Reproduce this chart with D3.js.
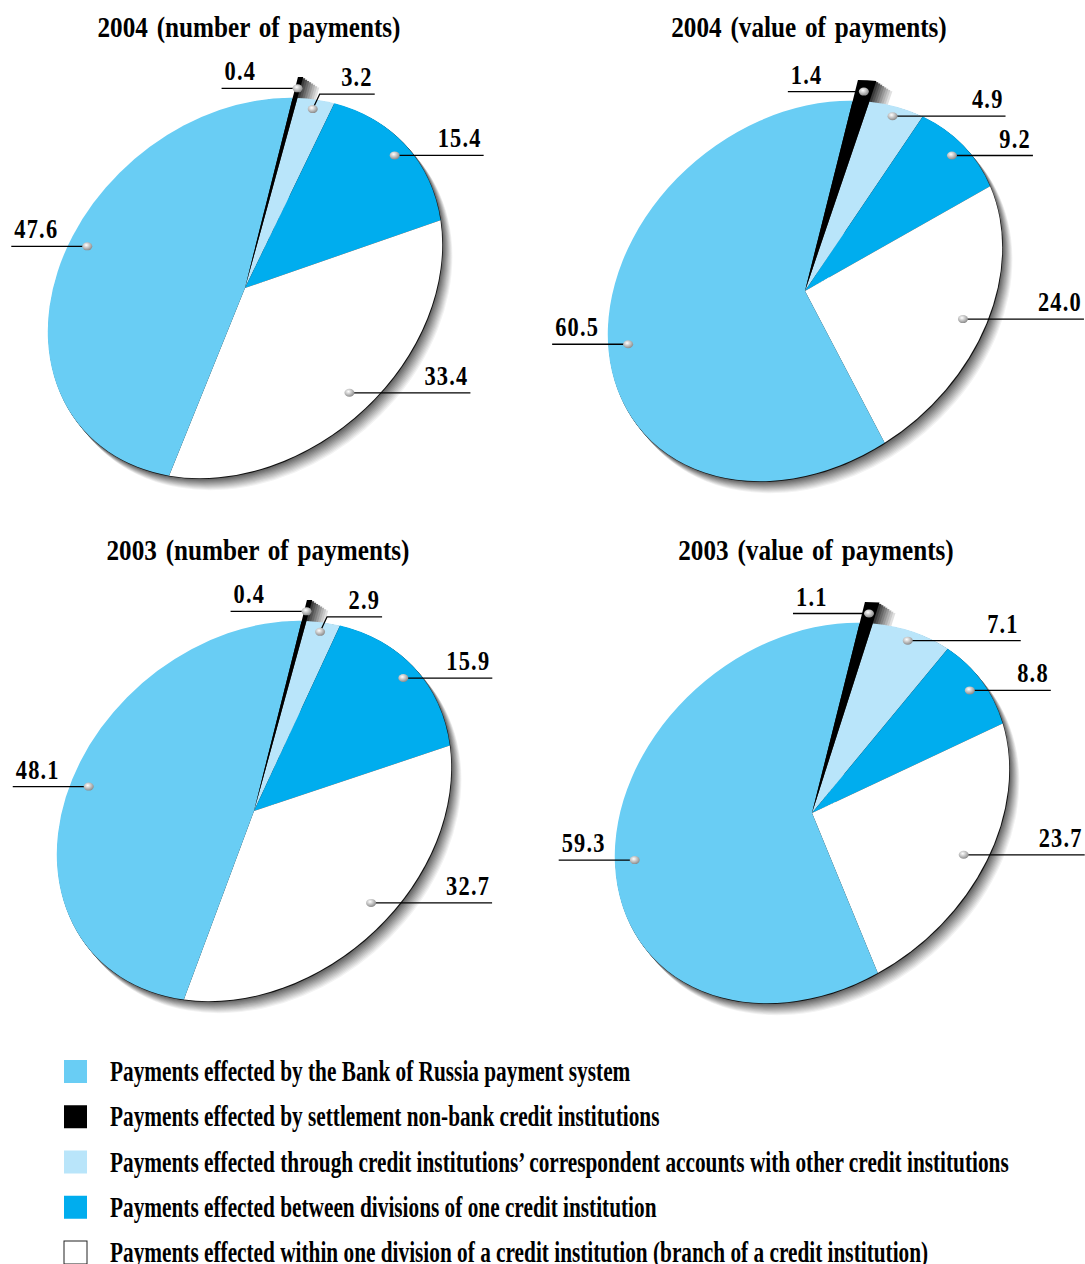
<!DOCTYPE html>
<html>
<head>
<meta charset="utf-8">
<script src="https://cdn.jsdelivr.net/npm/d3@7"></script>
<style>
  body { margin: 0; background: #fff; }
  text { font-family: "Liberation Serif", "DejaVu Serif", serif; font-weight: bold; fill: #000; }
</style>
</head>
<body>
<svg id="chart" width="1085" height="1264"></svg>
<script>
// Legend categories (data order) and their fills
const categories = [
  "Payments effected by the Bank of Russia payment system",
  "Payments effected by settlement non-bank credit institutions",
  "Payments effected through credit institutions\u2019 correspondent accounts with other credit institutions",
  "Payments effected between divisions of one credit institution",
  "Payments effected within one division of a credit institution (branch of a credit institution)"
];
const colors = ["#69cdf4", "#000000", "#b9e5fa", "#00adee", "#ffffff"];

// Chart titles
const titles = [
  "2004 (number of payments)",
  "2004 (value of payments)",
  "2003 (number of payments)",
  "2003 (value of payments)"
];

// Shares, %, in category order
const number2004 = [47.6, 0.4, 3.2, 15.4, 33.4];
const value2004  = [60.5, 1.4, 4.9, 9.2, 24.0];
const number2003 = [48.1, 0.4, 2.9, 15.9, 32.7];
const value2003  = [59.3, 1.1, 7.1, 8.8, 23.7];

// Order of slices clockwise from the start angle
const sliceOrder = [1, 2, 3, 4, 0];

// ---- layout ----
const charts = [
  {title: titles[0], values: number2004, cx: 245, cy: 288, ty: 37,  kind: "number", nudge: [9, 0, 0, 0, 0]},
  {title: titles[1], values: value2004,  cx: 805, cy: 291, ty: 37,  kind: "value",  nudge: [0, 0, 0, 0, 0]},
  {title: titles[2], values: number2003, cx: 254, cy: 811, ty: 560, kind: "number", nudge: [4, 0, 0, 0, -5]},
  {title: titles[3], values: value2003,  cx: 812, cy: 813, ty: 560, kind: "value",  nudge: [0, 0, 0, 0, 0]}
];
const R = 215;          // major radius
const squash = 0.79;    // minor / major
const tilt = -40.5;     // degrees
const startDeg = 48;

// where the label bead sits (fraction of radius) and how the leader runs
const beadR = [0.9, 1.05, 0.95, 0.93, 0.87];
const leaders = {
  number: [{dx: -76}, {dx: -76}, {rise: -15, dx: 55}, {dx: 89}, {dx: 121}],
  value:  [{dx: -76}, {dx: -76}, {dx: 113}, {dx: 81}, {dx: 121}]
};

const svg = d3.select("#chart");
const defs = svg.append("defs");

const bead = defs.append("radialGradient").attr("id", "bead")
  .attr("cx", "40%").attr("cy", "35%").attr("r", "65%");
bead.append("stop").attr("offset", "0%").attr("stop-color", "#ffffff");
bead.append("stop").attr("offset", "100%").attr("stop-color", "#8c8c8c");

const side = defs.append("linearGradient").attr("id", "side")
  .attr("x1", "0%").attr("x2", "100%").attr("y1", "0%").attr("y2", "0%");
side.append("stop").attr("offset", "0%").attr("stop-color", "#111");
side.append("stop").attr("offset", "60%").attr("stop-color", "#777");
side.append("stop").attr("offset", "100%").attr("stop-color", "#d8d8d8");

// circle space -> screen offset
function project(p) {
  const t = tilt * Math.PI / 180;
  const x = p[0], y = p[1] * squash;
  return [x * Math.cos(t) - y * Math.sin(t), x * Math.sin(t) + y * Math.cos(t)];
}

const pie = d3.pie().sort(null).value(d => d.v)
  .startAngle(startDeg * Math.PI / 180)
  .endAngle((startDeg + 360) * Math.PI / 180);
const arc = d3.arc().innerRadius(0).outerRadius(R);
const arcOut = d3.arc().innerRadius(0).outerRadius(R * 1.11);

const shadowColor = d3.scaleLinear().domain([1, 12]).range(["#5e5e5e", "#f3f3f3"]);

charts.forEach(c => {
  const g = svg.append("g");
  const slices = pie(sliceOrder.map(i => ({i: i, v: c.values[i]})));
  const ellTf = `translate(${c.cx},${c.cy}) rotate(${tilt}) scale(1,${squash})`;

  // drop shadow: stacked offset ellipses, lightest first
  d3.range(12, 0, -1).forEach(k => {
    g.append("g")
      .attr("transform", `translate(${c.cx + k * 0.85},${c.cy + k * 1.0}) rotate(${tilt}) scale(1,${squash})`)
      .append("circle").attr("r", R)
      .attr("fill", shadowColor(k));
  });
  g.append("g")
    .attr("transform", `translate(${c.cx + 0.7},${c.cy + 0.9}) rotate(${tilt}) scale(1,${squash})`)
    .append("circle").attr("r", R).attr("fill", "#111");

  // side face of the pulled-out black slice
  const black = slices.find(s => s.data.i === 1);
  d3.range(8, 0, -1).forEach(k => {
    g.append("g")
      .attr("transform", `translate(${c.cx + k * 2},${c.cy + k * 1.3}) rotate(${tilt}) scale(1,${squash})`)
      .append("path").attr("d", arcOut(black))
      .attr("fill", d3.interpolateRgb("#222", "#e0e0e0")(k / 8));
  });

  const pg = g.append("g").attr("transform", ellTf);
  pg.selectAll("path.slice")
    .data(slices.filter(s => s.data.i !== 1))
    .join("path")
    .attr("class", "slice")
    .attr("d", arc)
    .attr("fill", d => colors[d.data.i]);
  pg.append("path").attr("d", arcOut(black)).attr("fill", colors[1]);

  // labels: bead, leader, value
  const lay = leaders[c.kind];
  slices.forEach(s => {
    const i = s.data.i;
    const r = R * beadR[i];
    const sh = c.nudge[i] * Math.PI / 180;
    const shifted = {startAngle: s.startAngle + sh, endAngle: s.endAngle + sh};
    const p = project(d3.arc().innerRadius(r).outerRadius(r).centroid(shifted));
    const bx = c.cx + p[0], by = c.cy + p[1];
    const L = lay[i];
    let pts = [[bx, by]];
    let lx = bx, ly = by;
    if (L.rise) { lx = bx + 7; ly = by + L.rise; pts.push([lx, ly]); }
    const ex = lx + L.dx;
    pts.push([ex, ly]);
    g.append("path")
      .attr("d", d3.line()(pts))
      .attr("fill", "none").attr("stroke", "#000").attr("stroke-width", 1.3);
    g.append("ellipse")
      .attr("cx", bx).attr("cy", by).attr("rx", 5).attr("ry", 4)
      .attr("fill", "url(#bead)");
    const left = L.dx < 0;
    g.append("text")
      .attr("transform", `translate(${left ? ex + 3 : ex - 2},${ly - 8}) scale(0.8,1)`)
      .attr("text-anchor", left ? "start" : "end")
      .style("font-size", "28px")
      .style("letter-spacing", "1.5px")
      .text(c.values[i].toFixed(1));
  });

  // title
  svg.append("text")
    .attr("transform", `translate(${c.cx + 4},${c.ty}) scale(0.84,1)`)
    .attr("text-anchor", "middle")
    .style("font-size", "30px")
    .style("word-spacing", "3px")
    .text(c.title);
});

// legend
const legend = svg.append("g").attr("transform", "translate(64,1060)");
const rowY = d3.scalePoint().domain(d3.range(categories.length)).range([0, 181]);
categories.forEach((name, i) => {
  const row = legend.append("g").attr("transform", `translate(0,${rowY(i)})`);
  row.append("rect")
    .attr("width", 23).attr("height", 23)
    .attr("fill", colors[i])
    .attr("stroke", i === 4 ? "#222" : "none")
    .attr("stroke-width", 1);
  row.append("text")
    .attr("transform", "translate(46,21) scale(0.71,1)")
    .style("font-size", "30px")
    .text(name);
});
</script>
</body>
</html>
